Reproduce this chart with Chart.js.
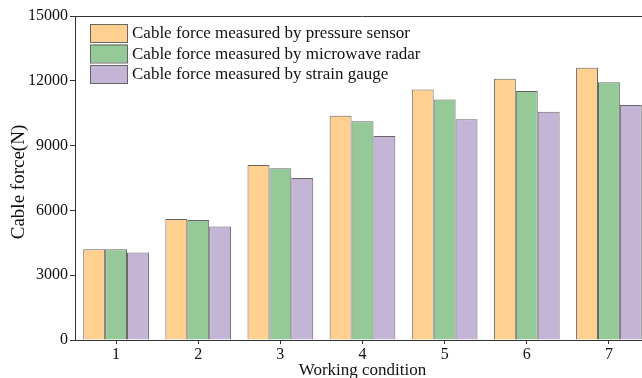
<!DOCTYPE html>
<html>
<head>
<meta charset="utf-8">
<script src="https://cdn.jsdelivr.net/npm/chart.js@4/dist/chart.umd.min.js"></script>
<style>
  html, body { margin: 0; padding: 0; background: #fff; overflow: hidden; }
  #wrap { width: 652px; height: 381px; }
  .probe { font-family: "Liberation Serif"; position: absolute; left: -999px; }
</style>
</head>
<body>
<span class="probe">Cable force 0123456789</span>
<div id="wrap"><canvas id="c" width="652" height="381"></canvas></div>
<script>
// Working conditions on the x axis
const categories = ['1', '2', '3', '4', '5', '6', '7'];

// Cable force (N) per method
const pressureSensor = [4200, 5600, 8100, 10380, 11600, 12100, 12600];
const microwaveRadar = [4200, 5550, 7950, 10130, 11130, 11530, 11930];
const strainGauge    = [4050, 5250, 7500, 9450, 10220, 10570, 10880];

const seriesLabels = [
  'Cable force measured by pressure sensor',
  'Cable force measured by microwave radar',
  'Cable force measured by strain gauge'
];

// Y-axis tick values
const yTicks = [0, 3000, 6000, 9000, 12000, 15000];

const SERIF = "'Liberation Serif', 'DejaVu Serif', serif";
const fills = ['#FFD08F', '#95C997', '#C4B4D6'];
const edge = '#666666';

// Legend boxes drawn in the upper-left corner of the plot
const boxLegend = {
  id: 'boxLegend',
  afterDraw(chart) {
    const ctx = chart.ctx;
    const x0 = chart.chartArea.left + 15;
    let y0 = chart.chartArea.top + 8;
    ctx.save();
    ctx.font = '17px ' + SERIF;
    ctx.textBaseline = 'middle';
    ctx.textAlign = 'left';
    chart.data.datasets.forEach(ds => {
      ctx.fillStyle = ds.backgroundColor;
      ctx.fillRect(x0, y0, 37, 18);
      ctx.strokeStyle = edge;
      ctx.lineWidth = 1;
      ctx.strokeRect(x0 + 0.5, y0 + 0.5, 37, 18);
      ctx.fillStyle = '#111';
      ctx.fillText(ds.label, x0 + 42, y0 + 10);
      y0 += 20.5;
    });
    ctx.restore();
  }
};

// Y-axis title, centred a little below the middle of the axis
const yTitle = {
  id: 'yTitle',
  afterDraw(chart) {
    const s = chart.scales.y;
    const ctx = chart.ctx;
    ctx.save();
    ctx.font = '19px ' + SERIF;
    ctx.fillStyle = '#111';
    ctx.textAlign = 'center';
    ctx.textBaseline = 'middle';
    ctx.translate(19, (s.top + s.bottom) / 2 + 4);
    ctx.rotate(-Math.PI / 2);
    ctx.fillText('Cable force(N)', 0, 0);
    ctx.restore();
  }
};

// Top and right frame lines
const frame = {
  id: 'frame',
  afterDraw(chart) {
    const {left, right, top, bottom} = chart.chartArea;
    const ctx = chart.ctx;
    ctx.save();
    ctx.strokeStyle = '#333';
    ctx.lineWidth = 1;
    ctx.beginPath();
    ctx.moveTo(left, top + 0.5);
    ctx.lineTo(right, top + 0.5);
    ctx.lineTo(right, bottom);
    ctx.stroke();
    ctx.restore();
  }
};

const values = [pressureSensor, microwaveRadar, strainGauge];

function build() {
  new Chart(document.getElementById('c'), {
    type: 'bar',
    data: {
      labels: categories,
      datasets: values.map((v, i) => ({
        label: seriesLabels[i],
        data: v,
        backgroundColor: fills[i],
        borderColor: edge,
        borderWidth: 1,
        borderSkipped: 'bottom',
        categoryPercentage: 0.8,
        barPercentage: 1.0
      }))
    },
    options: {
      responsive: false,
      animation: false,
      layout: { padding: { top: 16, right: 2, left: 0, bottom: 0 } },
      plugins: {
        legend: { display: false },
        tooltip: { enabled: false }
      },
      scales: {
        x: {
          offset: true,
          grid: {
            offset: false,
            drawOnChartArea: false,
            drawTicks: true,
            tickLength: 4,
            color: '#333'
          },
          border: { color: '#333', width: 1 },
          ticks: {
            color: '#111',
            padding: 1,
            font: { family: SERIF, size: 16 }
          },
          title: {
            display: true,
            text: 'Working condition',
            color: '#111',
            font: { family: SERIF, size: 17 },
            padding: { top: 0, bottom: 0 }
          },
          afterFit(scale) { scale.height = 41; }
        },
        y: {
          min: 0,
          max: 15000,
          afterBuildTicks(scale) { scale.ticks = yTicks.map(v => ({ value: v })); },
          grid: {
            drawOnChartArea: false,
            drawTicks: true,
            tickLength: 5,
            color: '#333'
          },
          border: { color: '#333', width: 1 },
          ticks: {
            color: '#111',
            padding: 2,
            font: { family: SERIF, size: 16 },
            callback: v => String(v)
          },
          title: { display: false },
          afterFit(scale) { scale.width = 75; }
        }
      }
    },
    plugins: [boxLegend, yTitle, frame]
  });
}

if (document.fonts && document.fonts.load) {
  document.fonts.load("16px 'Liberation Serif'").then(build, build);
} else {
  build();
}
</script>
</body>
</html>
